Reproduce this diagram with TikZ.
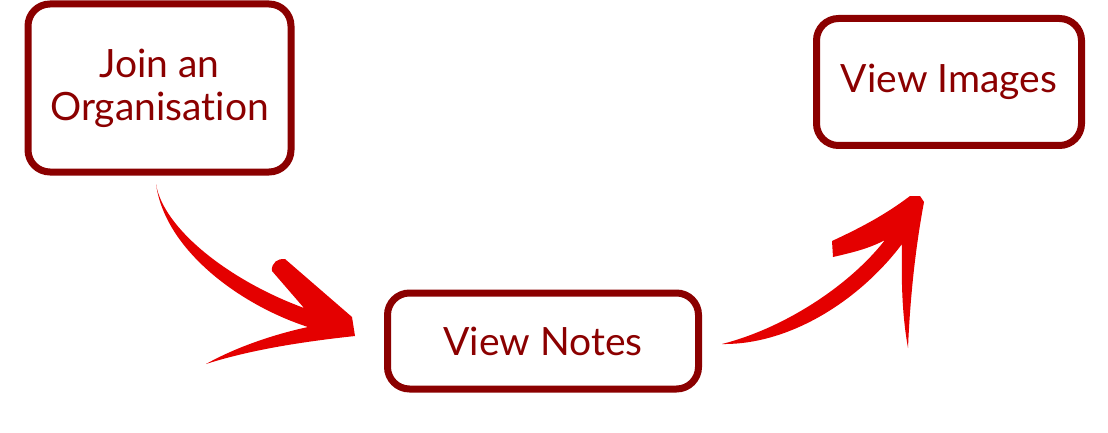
\documentclass[tikz,border=0pt]{standalone}
\usepackage{fontspec}
\setmainfont{Lato}[Ligatures=NoCommon]
\usepackage{tikz}
\usetikzlibrary{positioning}
\definecolor{boxred}{RGB}{139,0,0}
\definecolor{brushred}{RGB}{228,0,0}

\begin{document}
\begin{tikzpicture}[x=1pt,y=-1pt,
        stepbox/.style={draw=boxred, line width=7pt, rounded corners=22pt, text=boxred,
            align=center, inner sep=0pt, font=\fontsize{39}{43}\selectfont},
        brush/.style={fill=brushred, draw=none},
    ]
    \useasboundingbox (0,0) rectangle (1108,433);
    % boxes
    \node[stepbox, minimum width=263pt, minimum height=168pt] (join) at (159.5,88) {Join an\\Organisation};
    \node[stepbox, minimum width=311pt, minimum height=96pt] (notes) at (543,341) {View Notes};
    \node[stepbox, minimum width=265pt, minimum height=127pt] (images) at (949,82) {View Images};
    % brush arrow join -> notes
    \fill[brush] (156,184) .. controls (163,228) and (228,280) .. (304,308)
        -- (272,271) .. controls (271,263) and (278,258) .. (285,259)
        -- (352,317) -- (355,336)
        .. controls (300,342) and (250,350) .. (206,364)
        .. controls (240,345) and (280,333) .. (308,327)
        .. controls (240,305) and (165,250) .. (156,184) -- cycle;
    % brush arrow notes -> images
    \fill[brush] (722,344) .. controls (790,345) and (860,300) .. (902,244)
        .. controls (901,290) and (903,320) .. (908,348)
        .. controls (910,300) and (915,250) .. (924,202)
        -- (920,196) -- (910,196)
        .. controls (885,215) and (860,228) .. (832,241)
        -- (833,257)
        .. controls (855,252) and (870,248) .. (885,240)
        .. controls (850,285) and (785,328) .. (722,344) -- cycle;
\end{tikzpicture}
\end{document}
